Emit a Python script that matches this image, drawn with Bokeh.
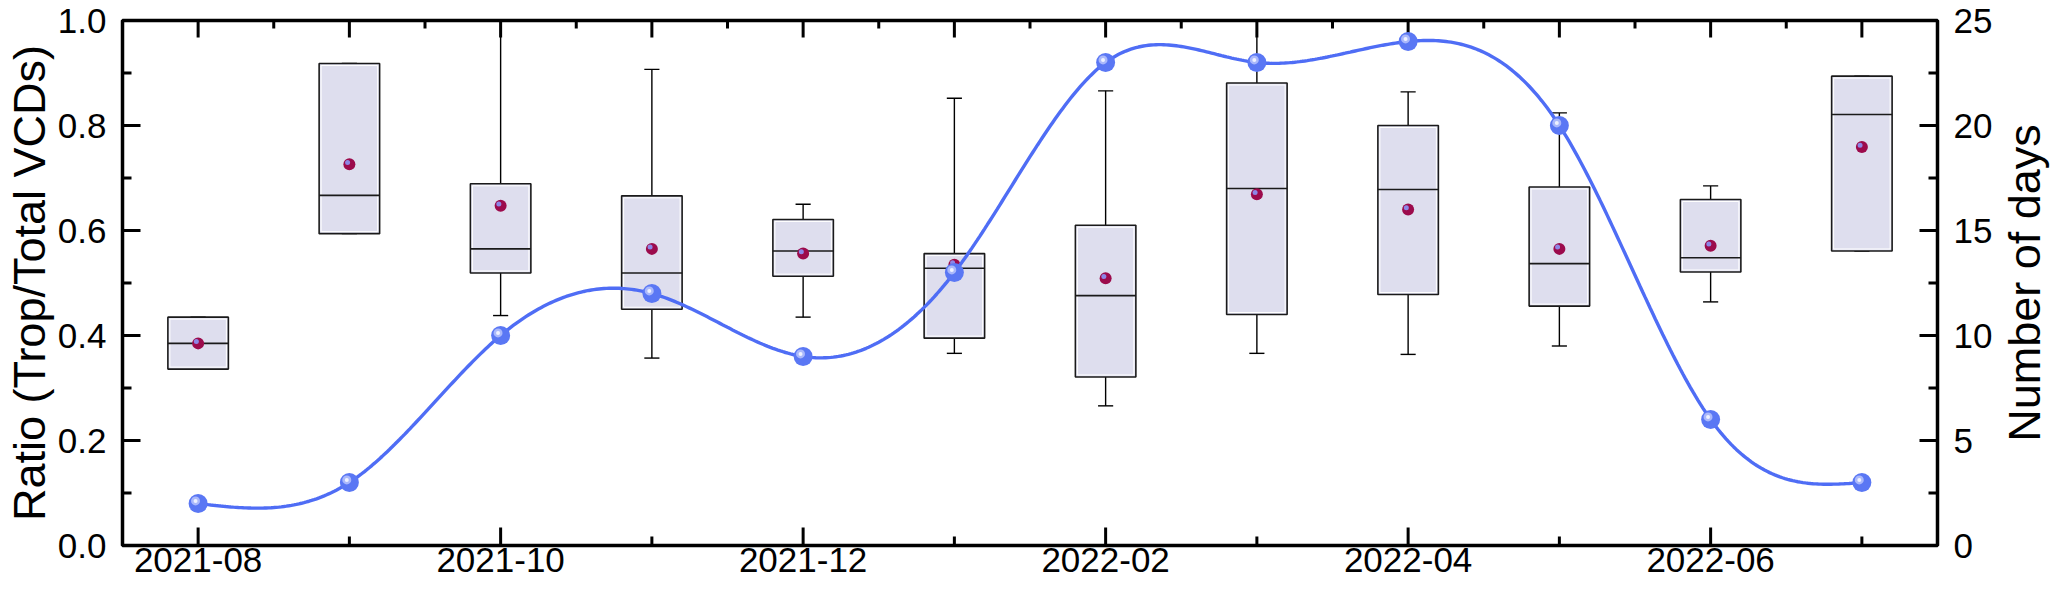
import numpy as np
from bokeh.plotting import figure
from bokeh.layouts import row
from bokeh.models import (Range1d, LinearAxis, FixedTicker, ColumnDataSource,
                          PrintfTickFormatter)
from bokeh.embed import file_html
from bokeh.resources import INLINE

# ---------------- data ----------------
months = ["2021-08", "2021-09", "2021-10", "2021-11", "2021-12", "2022-01",
          "2022-02", "2022-03", "2022-04", "2022-05", "2022-06", "2022-07"]
days = [2, 3, 10, 12, 9, 13, 23, 23, 24, 20, 6, 3]
q1 = [0.336, 0.594, 0.519, 0.450, 0.513, 0.395, 0.321, 0.440, 0.478, 0.456, 0.521, 0.561]
q3 = [0.435, 0.918, 0.689, 0.666, 0.621, 0.556, 0.610, 0.881, 0.800, 0.683, 0.659, 0.894]
median = [0.385, 0.667, 0.565, 0.519, 0.561, 0.528, 0.476, 0.680, 0.678, 0.537, 0.548, 0.821]
mean = [0.385, 0.726, 0.647, 0.565, 0.556, 0.535, 0.509, 0.669, 0.640, 0.565, 0.571, 0.759]
whisker_low = [0.336, 0.594, 0.438, 0.357, 0.435, 0.366, 0.266, 0.366, 0.364, 0.380, 0.464, 0.561]
whisker_high = [0.435, 0.918, 1.02, 0.907, 0.650, 0.852, 0.866, 1.02, 0.864, 0.824, 0.685, 0.894]

ratio_ticks = [0.0, 0.2, 0.4, 0.6, 0.8, 1.0]
ratio_minor = [0.1, 0.3, 0.5, 0.7, 0.9]
days_ticks = [0, 5, 10, 15, 20, 25]
days_minor = [2.5, 7.5, 12.5, 17.5, 22.5]

# ---------------- layout constants ----------------
W_MAIN, W_SIDE, H = 1995, 56, 594
B_LEFT, B_RIGHT, B_TOP, B_BOTTOM = 117, 57, 20, 49
FONT = "Liberation Sans"
TICK_FS = "35px"
TITLE_FS = "45px"
BOX_W = 0.4
CAP_W = 0.1
MAJ, MIN = 18, 9
LW_AX = 3

n = len(months)
x = np.arange(n, dtype=float)
x_lo, x_hi = -0.5, n - 0.5
month_px = (W_MAIN - B_LEFT - B_RIGHT) / (x_hi - x_lo)
ratio_px = (H - B_TOP - B_BOTTOM) / 1.0

src = ColumnDataSource(dict(
    x=x, q1=q1, q3=q3, med=median, mean=mean, lo=whisker_low, hi=whisker_high,
    days=days,
))

p = figure(width=W_MAIN, height=H, x_range=Range1d(x_lo, x_hi), y_range=Range1d(0, 1),
           output_backend="svg", toolbar_location=None,
           min_border_left=B_LEFT, min_border_right=B_RIGHT,
           min_border_top=B_TOP, min_border_bottom=B_BOTTOM)
p.extra_y_ranges = {"days": Range1d(0, 25)}
p.grid.visible = False
p.outline_line_color = "black"
p.outline_line_width = 3.5
p.background_fill_color = "white"
p.border_fill_color = "white"


def style_axis(ax):
    ax.axis_line_width = LW_AX
    ax.axis_line_color = "black"
    ax.major_tick_in = 0
    ax.major_tick_out = 0
    ax.minor_tick_in = 0
    ax.minor_tick_out = 0
    ax.major_label_text_font = FONT
    ax.major_label_text_font_size = TICK_FS
    ax.major_label_text_color = "black"
    ax.axis_label_text_font = FONT
    ax.axis_label_text_font_size = TITLE_FS
    ax.axis_label_text_font_style = "normal"
    ax.axis_label_text_color = "black"


# bottom axis (labels; tick marks drawn below as rays)
bx = p.xaxis[0]
style_axis(bx)
even = x[::2]
odd = x[1::2]
bx.ticker = FixedTicker(ticks=list(even), minor_ticks=list(odd))
bx.major_label_overrides = {float(i): months[i] for i in range(0, n, 2)}
bx.major_label_standoff = 2

# left axis
ly = p.yaxis[0]
style_axis(ly)
ly.ticker = FixedTicker(ticks=ratio_ticks, minor_ticks=ratio_minor)
ly.formatter = PrintfTickFormatter(format="%.1f")
ly.axis_label = "Ratio (Trop/Total VCDs)"
ly.major_label_standoff = 16
ly.axis_label_standoff = 0

# right axis (tick labels; its title sits in the side figure, read bottom-to-top)
ry = LinearAxis(y_range_name="days")
style_axis(ry)
ry.ticker = FixedTicker(ticks=days_ticks, minor_ticks=days_minor)
ry.major_label_standoff = 16
p.add_layout(ry, "right")

# ---------------- tick marks (inward) ----------------
tick_kw = dict(length_units="screen", angle_units="deg", line_color="black", line_width=LW_AX)
p.ray(x=even, y=np.zeros(len(even)), length=MAJ, angle=90, **tick_kw)
p.ray(x=odd, y=np.zeros(len(odd)), length=MIN, angle=90, **tick_kw)
p.ray(x=x, y=np.ones(n), length=MAJ - 1, angle=-90, **tick_kw)
halves = x[:-1] + 0.5
p.ray(x=halves, y=np.ones(len(halves)), length=MIN - 1, angle=-90, **tick_kw)
p.ray(x=np.full(len(ratio_ticks), x_lo), y=ratio_ticks, length=MAJ, angle=0, **tick_kw)
p.ray(x=np.full(len(ratio_minor), x_lo), y=ratio_minor, length=MIN, angle=0, **tick_kw)
p.ray(x=np.full(len(days_ticks), x_hi), y=days_ticks, length=MAJ, angle=180,
      y_range_name="days", **tick_kw)
p.ray(x=np.full(len(days_minor), x_hi), y=days_minor, length=MIN, angle=180,
      y_range_name="days", **tick_kw)

# ---------------- boxes ----------------
src.data["cap_l"] = x - CAP_W / 2
src.data["cap_r"] = x + CAP_W / 2
for a, b in (("q3", "hi"), ("q1", "lo")):
    p.segment(x0="x", y0=a, x1="x", y1=b, source=src, line_color="black", line_width=1.4)
    p.segment(x0="cap_l", y0=b, x1="cap_r", y1=b, source=src, line_color="black", line_width=1.4)

p.vbar(x="x", width=BOX_W, top="q3", bottom="q1", source=src,
       fill_color="#dedeee", line_color="#1a1a1a", line_width=1.6)
inset_x = 2.0 / month_px
inset_y = 2.0 / ratio_px
src.data["q3i"] = np.array(q3) - inset_y
src.data["q1i"] = np.array(q1) + inset_y
p.vbar(x="x", width=BOX_W - 2 * inset_x, top="q3i", bottom="q1i", source=src,
       fill_color=None, line_color="white", line_width=1)
src.data["bl"] = x - BOX_W / 2
src.data["br"] = x + BOX_W / 2
p.segment(x0="bl", y0="med", x1="br", y1="med", source=src, line_color="#1a1a1a", line_width=1.6)

# mean markers (with highlight)
p.scatter(x="x", y="mean", source=src, size=12, fill_color="#9c0b4c", line_color=None)
src.data["mx_h"] = x - 1.8 / month_px
src.data["my_h"] = np.array(mean) + 1.8 / ratio_px
p.scatter(x="mx_h", y="my_h", source=src, size=5, fill_color="#8d86e6", line_color=None)


# ---------------- spline line for days ----------------
def natural_cubic(xk, yk, per=60):
    xk = np.asarray(xk, float)
    yk = np.asarray(yk, float)
    m = len(xk)
    h = np.diff(xk)
    A = np.zeros((m, m))
    b = np.zeros(m)
    A[0, 0] = 1.0
    A[-1, -1] = 1.0
    for i in range(1, m - 1):
        A[i, i - 1] = h[i - 1]
        A[i, i] = 2 * (h[i - 1] + h[i])
        A[i, i + 1] = h[i]
        b[i] = 3 * ((yk[i + 1] - yk[i]) / h[i] - (yk[i] - yk[i - 1]) / h[i - 1])
    c = np.linalg.solve(A, b)
    xs, ys = [], []
    for i in range(m - 1):
        bi = (yk[i + 1] - yk[i]) / h[i] - h[i] * (2 * c[i] + c[i + 1]) / 3
        di = (c[i + 1] - c[i]) / (3 * h[i])
        t = np.linspace(0, h[i], per, endpoint=(i == m - 2))
        xs.append(xk[i] + t)
        ys.append(yk[i] + bi * t + c[i] * t ** 2 + di * t ** 3)
    return np.concatenate(xs), np.concatenate(ys)


sx, sy = natural_cubic(x, days)
p.line(sx, sy, y_range_name="days", line_color="#4f6df5", line_width=3.4)

days_px = ratio_px / 25.0
p.scatter(x="x", y="days", source=src, y_range_name="days", size=19,
          fill_color="#5a77f4", line_color=None)
src.data["dx_h"] = x - 2.6 / month_px
src.data["dy_h"] = np.array(days, float) + 2.6 / days_px
p.scatter(x="dx_h", y="dy_h", source=src, y_range_name="days", size=9,
          fill_color="#aab8fb", line_color=None)
p.scatter(x="dx_h", y="dy_h", source=src, y_range_name="days", size=4,
          fill_color="#eef1ff", line_color=None)

# ---------------- side figure carrying the right-hand title ----------------
q = figure(width=W_SIDE, height=H, x_range=Range1d(0, 1), y_range=Range1d(0, 25),
           output_backend="svg", toolbar_location=None,
           min_border_left=W_SIDE - 8, min_border_right=0,
           min_border_top=B_TOP, min_border_bottom=B_BOTTOM)
q.grid.visible = False
q.outline_line_color = None
q.background_fill_color = "white"
q.border_fill_color = "white"
q.xaxis.visible = False
qa = q.yaxis[0]
style_axis(qa)
qa.axis_line_color = None
qa.ticker = FixedTicker(ticks=[], minor_ticks=[])
qa.major_label_standoff = 0
qa.axis_label = "Number of days"
qa.axis_label_standoff = 0
q.line(x=[0, 1], y=[0, 0], line_alpha=0)

layout = row(p, q)
open("out.html", "w").write(file_html(layout, INLINE))
